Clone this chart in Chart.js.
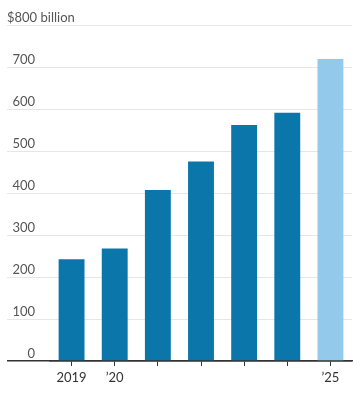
<!DOCTYPE html>
<html>
<head>
<meta charset="utf-8">
<script src="https://cdn.jsdelivr.net/npm/chart.js@4.4.1/dist/chart.umd.min.js"></script>
<style>
  html, body { margin: 0; padding: 0; background: #fff; }
  #wrap { width: 360px; height: 394px; position: relative; }
</style>
</head>
<body>
<div id="wrap"><canvas id="c"></canvas></div>
<script>
const categories = ['2019', '2020', '2021', '2022', '2023', '2024', '2025'];
const xTickLabels = ['2019', '\u201920', '', '', '', '', '\u201925'];
const values = [242, 268, 407, 475, 562, 591, 719];
const isForecast = [false, false, false, false, false, false, true];
const yTickValues = [0, 100, 200, 300, 400, 500, 600, 700, 800];
const yTickLabels = ['0', '100', '200', '300', '400', '500', '600', '700', '$800 billion'];

const DARK = '#0a76a9';
const LIGHT = '#93caeb';
const FONT = 'Lato, "Open Sans", sans-serif';

const yLabelPlugin = {
  id: 'yLabels',
  afterDraw(chart) {
    const ctx = chart.ctx;
    const y = chart.scales.y;
    ctx.save();
    ctx.font = '13px ' + FONT;
    ctx.fillStyle = '#555';
    ctx.textBaseline = 'alphabetic';
    yTickValues.forEach((v, i) => {
      const py = y.getPixelForValue(v) - 3;
      const label = yTickLabels[i];
      if (i === yTickValues.length - 1) {
        ctx.textAlign = 'left';
        ctx.fillText(label, 7, py);
      } else {
        ctx.textAlign = 'right';
        ctx.fillText(label, 35, py);
      }
    });
    ctx.restore();
  }
};

new Chart(document.getElementById('c'), {
  type: 'bar',
  data: {
    labels: categories,
    datasets: [{
      data: values,
      backgroundColor: values.map((v, i) => isForecast[i] ? LIGHT : DARK),
      borderWidth: 0,
      categoryPercentage: 1,
      barPercentage: 0.6
    }]
  },
  options: {
    responsive: true,
    maintainAspectRatio: false,
    animation: false,
    layout: { padding: { left: 7, right: 8, top: 25, bottom: 0 } },
    plugins: { legend: { display: false }, tooltip: { enabled: false } },
    scales: {
      x: {
        afterFit(scale) { scale.height = 33; },
        grid: {
          offset: false,
          drawOnChartArea: false,
          drawTicks: true,
          tickLength: 5,
          color: '#333',
          lineWidth: 1
        },
        border: { display: true, color: '#333', width: 1.5 },
        ticks: {
          autoSkip: false,
          maxRotation: 0,
          padding: 4,
          color: '#333',
          font: { family: FONT, size: 13 },
          callback: (v, i) => xTickLabels[i]
        }
      },
      y: {
        min: 0,
        max: 800,
        afterFit(scale) { scale.width = 43; },
        afterBuildTicks(scale) { scale.ticks = yTickValues.map(v => ({ value: v })); },
        ticks: { display: false },
        border: { display: false },
        grid: {
          drawTicks: true,
          tickLength: 43,
          color: (c) => (c.tick && c.tick.value === 0) ? '#333' : '#e6e6e6',
          lineWidth: (c) => (c.tick && c.tick.value === 0) ? 1.5 : 1
        }
      }
    }
  },
  plugins: [yLabelPlugin]
});
</script>
</body>
</html>
